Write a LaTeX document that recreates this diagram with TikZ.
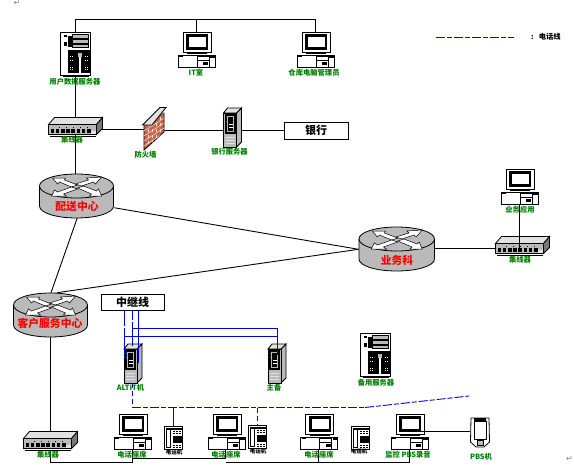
\documentclass[tikz,border=0pt]{standalone}
\usepackage{fontspec}
\setmainfont{Noto Sans CJK SC}
\newfontfamily\symfont{DejaVu Sans}
\usetikzlibrary{calc}
\definecolor{lblgreen}{RGB}{0,128,0}
\definecolor{netblue}{RGB}{0,0,230}
\definecolor{devgray}{RGB}{186,186,186}
\definecolor{devdark}{RGB}{120,120,120}
\definecolor{devlight}{RGB}{225,225,225}
\definecolor{brick}{RGB}{205,100,75}
\tikzset{
  x=1pt,y=-1pt,
  wire/.style={draw=black,line width=0.9pt},
  bluewire/.style={draw=netblue,line width=0.9pt},
  bluedash/.style={draw=netblue,line width=0.9pt,dash pattern=on 9pt off 2pt on 5pt off 2pt},
  bluedashb/.style={draw=netblue,line width=0.9pt,dash pattern=on 5pt off 3pt},
  lbl/.style={font=\bfseries\fontsize{7.3}{8}\selectfont,text=lblgreen,inner sep=0pt},
  rlbl/.style={font=\bfseries\fontsize{10.8}{12}\selectfont,text=red,inner sep=0pt},
  boxed/.style={draw=black,line width=0.9pt,fill=white,inner sep=0pt,font=\bfseries\fontsize{11}{12}\selectfont},
  ic/.style={draw=black,line width=0.8pt},
}
\newcommand{\pcicon}[3]{\coordinate (#3) at (#1,#2);
\begin{scope}[shift={(#1,#2)}]
  \filldraw[ic,fill=white] (5,0) rectangle (33,20);
  \fill[black] (8,2) rectangle (30,18);
  \fill[white] (11,5) rectangle (28,15);
  \fill[black] (9,20) rectangle (29,22);
  \filldraw[ic,fill=white] (0,23) rectangle (37,35);
  \fill[black] (1,23) rectangle (5,25);
  \filldraw[ic,fill=white] (19,24) rectangle (31,35);
  \fill[black] (19,28) rectangle (31,29);
  \fill[black] (25,30) rectangle (30,33);
  \fill[black] (32,24) rectangle (37,26);
\end{scope}}
\newcommand{\bigserver}[3]{\coordinate (#3) at (#1,#2);
\begin{scope}[shift={(#1,#2)}]
  \filldraw[ic,fill=white] (0,0) rectangle (30,43);
  \draw[ic] (2,44) -- (28,44);
  \fill[devgray,draw=black,line width=0.4pt] (12,2) rectangle (28,6);
  \fill[devgray,draw=black,line width=0.4pt] (12,7) rectangle (28,11);
  \fill[devgray,draw=black,line width=0.4pt] (12,12) rectangle (28,15);
  \fill[black] (7,3) rectangle (11,14);
  \fill[black] (3,2) rectangle (6,4);
  \fill[black] (3,9) rectangle (6,13);
  \fill[black] (7,17) rectangle (29,40);
  \fill[white] (18,20) rectangle (20,40);
  \fill[devgray] (17,20) rectangle (21,24);
  \foreach \dx in {9,11,24,26}{\foreach \dy in {23,27,34,36}{\fill[white] (\dx,\dy) rectangle +(1,1);}}
\end{scope}}
\newcommand{\towericon}[3]{\coordinate (#3) at (#1,#2);
\begin{scope}[shift={(#1,#2)}]
  \filldraw[ic,fill=devgray] (13,5) -- (18,0) -- (18,34) -- (13,39) -- cycle;
  \filldraw[ic,fill=devlight] (0,5) -- (4,0) -- (18,0) -- (13,5) -- cycle;
  \filldraw[ic,fill=devgray] (0,5) rectangle (13,39);
  \fill[black] (1,6) rectangle (12,26);
  \fill[devgray] (3,8) rectangle (10,24);
  \fill[black] (4,9) rectangle (9,23);
  \fill[white] (5,16) rectangle (9,17);
  \fill[white] (5,19) rectangle (9,20);
  \fill[lblgreen] (2,9) rectangle (3,10);
  \fill[lblgreen] (2,13) rectangle (3,14);
  \foreach \dy in {29,32,35}{\draw[devlight,line width=0.5pt] (2,\dy) -- (11,\dy);}
\end{scope}}
\newcommand{\switchicon}[3]{\coordinate (#3) at (#1,#2);
\begin{scope}[shift={(#1,#2)}]
  \filldraw[ic,fill=devlight] (0,7) -- (6,0) -- (54,0) -- (48,7) -- cycle;
  \filldraw[ic,fill=devdark] (48,7) -- (54,0) -- (54,11) -- (48,17) -- cycle;
  \filldraw[ic,fill=devgray] (0,7) rectangle (48,17);
  \fill[black] (1,18) rectangle (47,19);
  \foreach \i in {0,...,7}{\fill[black] (2+\i*5.2,11) rectangle +(3.6,4);}
  \fill[devlight] (42,13) rectangle (47,16);
  \foreach \i in {0,...,4}{\fill[black] (10+\i*7,9) rectangle +(1,1);}
\end{scope}}
\newcommand{\phoneicon}[3]{\coordinate (#3) at (#1,#2);
\begin{scope}[shift={(#1,#2)}]
  \filldraw[ic,fill=white] (0,0) rectangle (18,23);
  \fill[black] (1,1) rectangle (17,3);
  \filldraw[draw=black,line width=0.6pt,fill=white] (2,3) rectangle (6,21);
  \fill[black] (8,9) rectangle (17,16);
  \foreach \dy in {4,6,18,20}{\foreach \dx in {8,11,14}{\fill[black] (\dx,\dy) rectangle +(2,1);}}
\end{scope}}
\newcommand{\routericon}[4]{\coordinate (#4) at (#1,#2);
\begin{scope}[shift={(#1,#2)},xscale=#3]
  \filldraw[ic,fill=devgray] (0,12) -- (0,32) .. controls (0,39) and (17,44) .. (37,44) .. controls (57,44) and (74,39) .. (74,32) -- (74,12) .. controls (74,5) and (57,0) .. (37,0) .. controls (17,0) and (0,5) .. (0,12) -- cycle;
  \draw[ic] (0,12) .. controls (0,19) and (17,24) .. (37,24) .. controls (57,24) and (74,19) .. (74,12);
  \begin{scope}[draw=black,fill=white,line width=0.5pt]
    \filldraw (13,4) -- (26,4) -- (25,6) -- (38,11) -- (32,13) -- (20,8) -- (18,10) -- cycle;
    \filldraw (62,3) -- (47,4) -- (49,6) -- (36,10) -- (42,12) -- (54,8) -- (56,10) -- cycle;
    \filldraw (12,22) -- (15,16) -- (18,18) -- (32,13) -- (38,15) -- (24,20) -- (27,22) -- cycle;
    \filldraw (62,22) -- (50,22) -- (52,20) -- (38,14) -- (44,12) -- (57,17) -- (59,15) -- cycle;
  \end{scope}
\end{scope}}
\begin{document}
\begin{tikzpicture}
\useasboundingbox (0,0) rectangle (574,469);
\fill[white] (0,0) rectangle (574,469);
% connector anchors
\coordinate (topL) at (75.5,19);
\coordinate (topM) at (196.5,19);
\coordinate (topR) at (315.5,19);
\coordinate (srvT) at (75.5,33);
\coordinate (srvB) at (75.5,76);
\coordinate (swT) at (75.5,119);
\coordinate (swB) at (75.5,135);
\coordinate (rAT) at (75.5,174);
\coordinate (pc1T) at (196.5,33);
\coordinate (pc2T) at (315.5,33);
\coordinate (swR) at (97,129);
\coordinate (fwL) at (146,129);
\coordinate (fwR) at (158,130);
\coordinate (bankL) at (284,130);
\coordinate (rAR) at (114,207.7);
\coordinate (rAB) at (77.7,216.7);
\coordinate (rBL) at (358.5,249.3);
\coordinate (rCT) at (51,292.7);
\coordinate (rCTR) at (57,292.7);
\coordinate (rBR) at (435,248.5);
\coordinate (sw2C) at (519.5,248.5);
\coordinate (sw2L) at (497,248.5);
\coordinate (pc3B) at (519.5,205);
\coordinate (rCB) at (50.5,337);
\coordinate (sw3T) at (50.5,432);
\coordinate (sw3B) at (50.5,450);
\coordinate (busA) at (50.5,462.5);
\coordinate (busB) at (132.5,462.5);
\coordinate (busC) at (132.5,449);
\coordinate (busD) at (132.5,458.5);
\coordinate (busE) at (225.5,458.5);
\coordinate (busF) at (225.5,449);
\coordinate (busG) at (225.5,462.5);
\coordinate (busH) at (409.5,462.5);
\coordinate (busI) at (409.5,450);
\coordinate (busJ) at (318.5,462.5);
\coordinate (busK) at (318.5,450);
\coordinate (pc7R) at (421,431);
\coordinate (pdaL) at (470,431);
% black connectors behind the devices
\draw[wire] (srvT) -- (topL) -- (topR) -- (pc2T);
\draw[wire] (topM) -- (pc1T);
\draw[wire] (srvB) -- (swT);
\draw[wire] (swB) -- (rAT);
\draw[wire] (swR) -- (fwL);
\draw[wire] (fwR) -- (bankL);
\draw[wire] (rAR) -- (rBL);
\draw[wire] (rAB) -- (rCT);
\draw[wire] (rCTR) -- (rBL);
\draw[wire] (rBR) -- (sw2L);
\draw[wire] (rCB) -- (sw3T);
\draw[wire] (sw3B) -- (busA) -- (busB) -- (busC);
\draw[wire] (busD) -- (busE) -- (busF);
\draw[wire] (busG) -- (busH) -- (busI);
\draw[wire] (busJ) -- (busK);
% top row
\bigserver{60.5}{32.5}{srvA}
\pcicon{178}{32}{pcA}
\pcicon{297}{32}{pcB}
\node[lbl] (lA) at (75,81.5) {用户数据服务器};
\node[lbl] (lB) at (196,72.5) {IT室};
\node[lbl] (lC) at (314,72.5) {仓库电脑管理员};
% second row
\switchicon{48.5}{117.5}{swA}
\node[lbl] (lD) at (72,139.5) {集线器};
\filldraw[ic,fill=brick] (144,126) -- (164,113) -- (164,132) -- (144,150) -- cycle;
\begin{scope}
  \clip (144,126) -- (164,113) -- (164,132) -- (144,150) -- cycle;
  \foreach \yy in {0,5,...,30}{\draw[white!80!brick,line width=0.5pt] (144,126+\yy) -- (164,113+\yy);}
  \foreach \xx in {148,152,...,162}{\draw[white!80!brick,line width=0.5pt,dash pattern=on 3pt off 3pt] (\xx,105) -- (\xx,150);}
\end{scope}
\filldraw[ic,fill=devlight] (142.5,125) -- (160,107.5) -- (166,107.5) -- (152,125) -- cycle;
\coordinate (fwA) at (144,126);
\node[lbl] (lE) at (145.5,154.5) {防火墙};
\towericon{223.5}{108}{bankS}
\node[lbl] (lF) at (229.5,151.5) {银行服务器};
\node[boxed,minimum width=64pt,minimum height=17pt] (bank) at (316,130.5) {银行};
% routers
\routericon{39.5}{174}{1}{rA}
\node[rlbl] (lG) at (77,206.5) {配送中心};
\routericon{359}{227}{1.02}{rB}
\node[rlbl] (lH) at (397,260) {业务科};
\routericon{13.5}{293}{1}{rC}
\node[rlbl] (lI) at (50,323.5) {客户服务中心};
% right branch
\pcicon{501}{169}{pcC}
\node[lbl] (lJ) at (520,210) {业务应用};
\switchicon{495.5}{236.5}{swB2}
\node[lbl] (lK) at (520,260) {集线器};
\draw[wire] (pc3B) -- (sw2C);
% trunk
\node[boxed,minimum width=63pt,minimum height=16pt] (trunk) at (132.5,302) {中继线};
\towericon{124}{344}{altS}
\towericon{268}{344}{zwS}
\node[lbl] (lL) at (130.5,388) {ALTIT机};
\node[lbl] (lM) at (274,388) {主备};
\bigserver{360.5}{333.5}{bkS}
\node[lbl] (lN) at (376,382.5) {备用服务器};
% bottom devices
\switchicon{23.5}{431.5}{swC}
\node[lbl] (lO) at (48,455) {集线器};
\pcicon{114}{414}{pcD}
\pcicon{208}{414}{pcE}
\pcicon{300.5}{414}{pcF}
\pcicon{391}{414}{pcG}
\phoneicon{164.5}{426.5}{phA}
\phoneicon{248.5}{425.5}{phB}
\phoneicon{351.5}{426.5}{phC}
\node[lbl] (lP) at (132,454.5) {电话座席};
\node[lbl] (lQ) at (226,454.5) {电话座席};
\node[lbl] (lR) at (319,454.5) {电话座席};
\node[lbl] (lS) at (408,454.5) {监控 PBS录音};
\node[inner sep=0pt,font=\bfseries\fontsize{5.5}{6}\selectfont] (lT) at (174,452.5) {电话机};
\node[inner sep=0pt,font=\bfseries\fontsize{5.5}{6}\selectfont] (lU) at (258,451.5) {电话机};
\node[inner sep=0pt,font=\bfseries\fontsize{5.5}{6}\selectfont] (lV) at (359,451.5) {电话机};
% PDA
\coordinate (pda) at (470.5,417.5);
\filldraw[ic,fill=white] (471,418) -- (489,418) -- (489.5,442) -- (484,447) -- (476,447) -- (470.5,442) -- cycle;
\filldraw[draw=black,line width=0.5pt,fill=white] (474,421) rectangle (486,439);
\fill[black] (474,418) rectangle (486,420.5);
\filldraw[draw=black,line width=0.5pt,fill=devgray] (477,440.5) rectangle (483,445);
\node[lbl] (lW) at (481,457) {PBS机};
\draw[wire] (pc7R) -- (pdaL);
% blue links
\coordinate (tA) at (124.5,310);
\coordinate (tB) at (132.3,310);
\coordinate (tC) at (138.5,310);
\coordinate (tAb) at (124.5,363);
\coordinate (tBb) at (132.3,346);
\coordinate (tCb) at (138.5,363);
\coordinate (h1a) at (132.3,328.5);
\coordinate (h1b) at (277.5,328.5);
\coordinate (h2a) at (124.5,336);
\coordinate (h2b) at (277.5,336);
\coordinate (zwT) at (277.5,355);
\coordinate (altB) at (132.3,383);
\coordinate (b1) at (132.3,407.5);
\coordinate (b2) at (365,407.5);
\coordinate (b3) at (469,396);
\coordinate (j1) at (173.5,407.5);
\coordinate (j2) at (257.5,407.5);
\coordinate (ph1T) at (173.5,426.5);
\coordinate (ph2T) at (257.5,425.5);
\coordinate (tCm) at (138.5,319);
\draw[bluewire,dash pattern=on 16pt off 2pt on 30pt] (tA) -- (tAb);
\draw[bluewire,dash pattern=on 10pt off 2pt on 30pt] (tB) -- (tBb);
\draw[bluewire] (tC) -- (tCb);
\draw[bluewire] (tCm) -- (138.5,322);
\draw[bluewire] (h1a) -- (h1b) -- (zwT);
\draw[bluewire] (h2a) -- (h2b);
\draw[bluedashb] (altB) -- (b1);
\draw[bluedash] (b1) -- (b2);
\draw[bluedash] (b2) -- (b3);
\draw[bluewire] (j1) -- (ph1T);
\draw[bluedashb] (j2) -- (ph2T);
% legend
\coordinate (legA) at (436,37.5);
\coordinate (legB) at (514,37.5);
\draw[bluedash,line width=0.8pt] (legA) -- (legB);
\node[inner sep=0pt,font=\bfseries\fontsize{7.3}{8}\selectfont,anchor=west] (legT) at (531,36.5) {:\hspace{5pt}电话线};
% paragraph marks
\node[inner sep=0pt,text=gray,font=\symfont\fontsize{8}{8}\selectfont] (pmA) at (17,3) {↵};
\node[inner sep=0pt,text=gray,font=\symfont\fontsize{8}{8}\selectfont] (pmB) at (569.5,459) {↵};
\end{tikzpicture}
\end{document}
